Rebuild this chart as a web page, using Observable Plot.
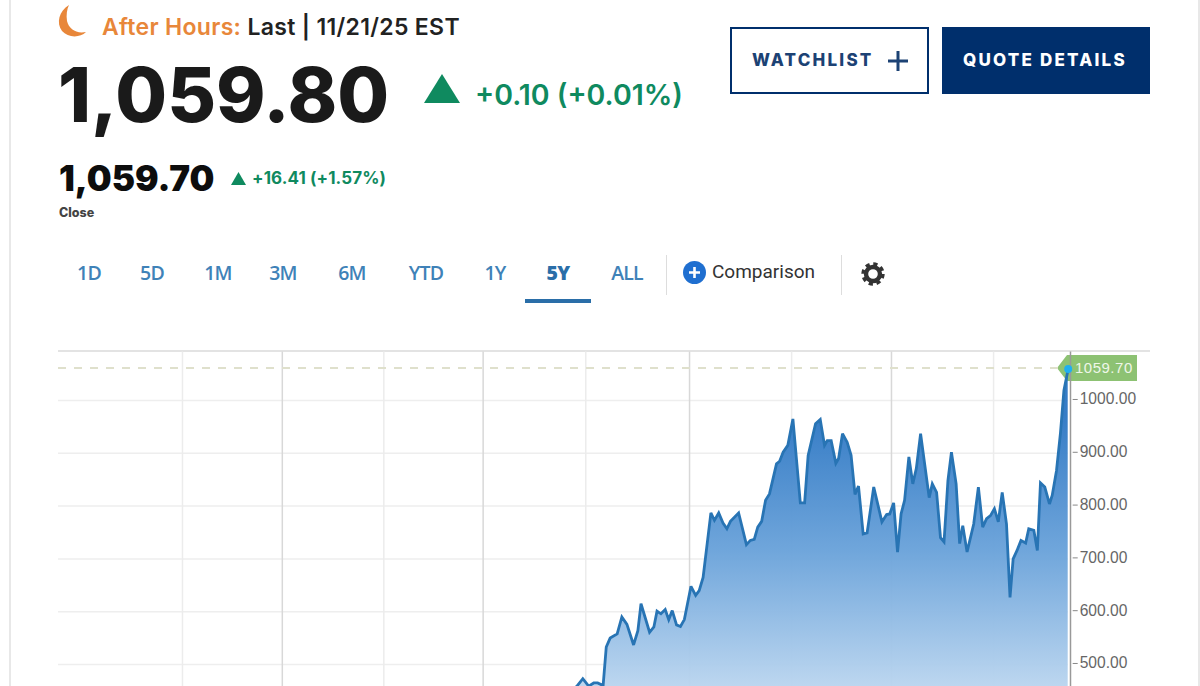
<!DOCTYPE html>
<html><head><meta charset="utf-8">
<script src="https://cdn.jsdelivr.net/npm/d3@7"></script>
<script src="https://cdn.jsdelivr.net/npm/@observablehq/plot@0.6"></script>
<style>
html,body{margin:0;padding:0;background:#fff;width:1200px;height:686px;overflow:hidden}
#page{position:relative;width:1200px;height:686px;overflow:hidden;font-family:Lato,"Noto Sans",sans-serif}
#page>*{position:absolute;white-space:nowrap}
.tab{top:261px;font-size:19.5px;line-height:24px;font-weight:600;color:#3f82b8;transform:translateX(-50%);font-family:"Open Sans",Lato,sans-serif;letter-spacing:-.8px}
.g{color:#0f8a5f;font-weight:700;font-family:Inter}
.sep{width:1px;background:#ddd}
.btn{font-family:Inter;font-weight:800;font-size:17px;line-height:24px;letter-spacing:2.2px}
</style></head><body>
<div id="page">
<div style="left:9px;top:0;width:2px;height:686px;background:#e8e8e8"></div>
<div style="left:1198px;top:0;width:2px;height:686px;background:#e8e8e8"></div>
<svg style="left:56px;top:3px" width="32" height="36" viewBox="0 0 32 36"><path d="M13 2 C3 8 0 20 6 28 C12 35 24 35 30 29 C20 31 13 26 11 18 C10 12 11 6 13 2Z" fill="#e8873a"/></svg>
<div style="left:102px;top:13px;font-family:Inter;font-size:23px;line-height:29px;font-weight:600;color:#222;letter-spacing:.32px"><span style="color:#e8873a">After Hours:</span> Last | 11/21/25 EST</div>
<div style="left:58px;top:49px;font-family:Inter;font-size:75px;line-height:92px;font-weight:800;color:#1a1a1a">1,059.80</div>
<svg style="left:424px;top:74px" width="36" height="29"><polygon points="18,0 36,29 0,29" fill="#0f8a5f"/></svg>
<div class="g" style="left:475px;top:77px;font-size:28.5px;line-height:36px;font-weight:600">+0.10 (+0.01%)</div>
<div style="left:59px;top:157px;font-family:Inter;font-size:35px;line-height:42px;font-weight:900;color:#0d0d0d">1,059.70</div>
<svg style="left:231px;top:172px" width="15" height="13"><polygon points="7.5,0 15,13 0,13" fill="#0f8a5f"/></svg>
<div class="g" style="left:252px;top:168px;font-size:17px;line-height:20px;letter-spacing:.1px">+16.41 (+1.57%)</div>
<div style="left:59px;top:205px;font-family:Inter;font-size:12.5px;line-height:15px;font-weight:800;color:#444">Close</div>

<div style="left:730px;top:27px;width:195px;height:63px;border:2px solid #002f6c"></div>
<div class="btn" style="left:752px;top:48px;color:#1c4274">WATCHLIST</div>
<svg style="left:887px;top:50px" width="22" height="22"><path d="M11 1V21M1 11H21" stroke="#1c4274" stroke-width="3"/></svg>
<div style="left:942px;top:27px;width:208px;height:67px;background:#002f6c"></div>
<div class="btn" style="left:963px;top:48px;color:#fff">QUOTE DETAILS</div>

<div class="tab" style="left:89px">1D</div><div class="tab" style="left:152px">5D</div><div class="tab" style="left:218px">1M</div>
<div class="tab" style="left:283px">3M</div><div class="tab" style="left:352px">6M</div><div class="tab" style="left:426px">YTD</div>
<div class="tab" style="left:495px">1Y</div><div class="tab" style="left:558px;font-weight:800;color:#2a6ea8">5Y</div><div class="tab" style="left:627px">ALL</div>
<div style="left:525px;top:299px;width:66px;height:4px;background:#2a6ea8"></div>
<div class="sep" style="left:666px;top:255px;height:40px"></div>
<svg style="left:683px;top:261px" width="23" height="23"><circle cx="11.5" cy="11.5" r="11.5" fill="#1f6fd0"/><path d="M11.5 6V17M6 11.5H17" stroke="#fff" stroke-width="2.6"/></svg>
<div style="left:712px;top:260px;font-family:Roboto;font-size:19px;line-height:24px;color:#333">Comparison</div>
<div class="sep" style="left:841px;top:255px;height:40px"></div>
<svg style="left:861px;top:262px" width="24" height="24" viewBox="0 0 24 24"><circle cx="12" cy="12" r="7" fill="none" stroke="#333" stroke-width="4.4"/><circle cx="12" cy="12" r="10" fill="none" stroke="#333" stroke-width="3.4" stroke-dasharray="4.2 3.65"/></svg>

<div id="tag" style="left:1057px;top:355px;width:80px;height:26px;background:#8dc273;clip-path:polygon(0 50%,10px 0,100% 0,100% 100%,10px 100%);font:15px/26px 'Liberation Sans',Arial,sans-serif;letter-spacing:.5px;color:#eef6e8;text-indent:18px"></div>
<div style="left:58px;top:350px;width:1092px;height:2px;background:#e3e3e3"></div>
<div id="chart" style="left:0;top:340px"></div>
</div>
<script>
// Close date of the last weekly bar
const closeDate = "2025-11-21";
const startDate = "2020-12-07";
// Weeks before the close
const weeksAgo = [258,240,222,205,188,170,155,140,130,
125.8,124.3,122.8,121.5,120.5,119.1,118.3,117.3,115.5,114.3,113.0,111.3,110.2,109.4,107.2,106.1,105.3,104.3,103.2,102.3,101.4,100.3,99.3,98.3,96.6,95.4,94.5,93.5,91.5,90.6,89.5,88.4,87.4,86.5,84.4,82.4,81.4,80.4,79.5,78.5,77.5,76.5,74.7,73.9,73.0,71.8,70.5,68.6,67.5,66.6,64.7,63.5,62.4,61.7,60.7,59.5,58.8,57.8,56.6,55.6,
54.6,53.7,52.5,51.5,49.8,47.7,46.5,45.7,44.7,43.7,42.8,41.9,40.8,39.8,38.9,37.8,35.6,34.8,33.7,32.7,31.8,30.8,29.9,28.7,27.8,27.0,25.9,24.2,23.0,21.9,20.9,19.9,18.9,17.9,16.9,15.8,14.9,14.1,13.1,12.1,10.9,10.1,8.8,7.9,7.1,6.0,4.8,4.1,3.0,2.0,1.1,0];
// Weekly close
const closes = [146,190,255,240,280,340,365,350,430,
459,473,459,465,465,460,533,550,558,590,576,537,564,615,561,571,601,596,604,585,602,575,572,585,648,631,640,665,787,773,787,768,757,771,787,727,735,737,760,771,811,823,880,885,902,915,965,806,806,896,956,964,915,924,924,881,890,937,921,896,
822,838,747,749,836,770,784,785,806,713,785,811,893,842,871,937,816,842,826,740,732,848,902,842,729,763,713,766,836,760,776,782,795,770,826,766,627,700,716,735,730,757,754,716,844,836,804,820,867,937,1019,1059.7];
const afterHoursLast = closes[closes.length-1];
const yTicks = [1000,900,800,700,600,500];
const majorGrid = ["2022-01-14","2023-01-09","2024-01-14","2025-01-10"];
const minorGrid = ["2021-07-19","2022-07-15","2023-07-12","2024-07-15","2025-07-12"];

const end = new Date(closeDate);
const data = weeksAgo.map((w,i)=>({date:new Date(+end - w*7*864e5), close:closes[i]}));
const d0 = new Date(startDate);
document.getElementById("tag").textContent = d3.format(".2f")(afterHoursLast);

const grad = () => {
  const defs = d3.create("svg:defs");
  const g = defs.append("linearGradient").attr("id","areaFill").attr("gradientUnits","userSpaceOnUse")
    .attr("x1",0).attr("x2",0).attr("y1",75).attr("y2",346);
  g.append("stop").attr("offset",0).attr("stop-color","#2f78c4");
  g.append("stop").attr("offset",.5).attr("stop-color","#6ba3da");
  g.append("stop").attr("offset",1).attr("stop-color","#bad5ef");
  return defs.node();
};

const chart = Plot.plot({
  width:1200, height:346,
  marginLeft:58, marginRight:132.3, marginTop:0, marginBottom:0,
  style:{background:"transparent",overflow:"hidden"},
  x:{type:"utc",domain:[d0,end],axis:null},
  y:{domain:[458.3,1113.6],axis:null},
  marks:[
    grad,
    Plot.ruleY(yTicks,{stroke:"#eeeeee",strokeWidth:1.5}),
    Plot.ruleX(minorGrid.map(d=>new Date(d)),{y1:1092,dx:-1,stroke:"#ececec",strokeWidth:1.5}),
    Plot.ruleX(majorGrid.map(d=>new Date(d)),{y1:1092,dx:-1,stroke:"#d8d8d8",strokeWidth:1.5}),
    Plot.ruleY([afterHoursLast],{dy:-1,stroke:"#dfe0cc",strokeWidth:2,strokeDasharray:"8,8"}),
    Plot.areaY(data,{x:"date",y1:0,y2:"close",fill:"url(#areaFill)",fillOpacity:.97}),
    Plot.lineY(data,{x:"date",y:"close",stroke:"#2874b4",strokeWidth:2.8,strokeLinejoin:"miter",strokeMiterlimit:3}),
    Plot.ruleX([end],{dx:2.3,y1:1092,stroke:"#999",strokeWidth:1.5}),
    Plot.axisY(yTicks,{anchor:"right",dx:4,dy:-1,tickSize:5,tickPadding:2.5,tickFormat:d3.format(".2f"),fontSize:15.6,stroke:"#888",color:"#666",fontFamily:"'Liberation Sans',Arial,sans-serif",label:null}),
    Plot.dot([data[data.length-1]],{x:"date",y:"close",r:4,fill:"#1fb0ef",stroke:"none"})
  ]
});
document.getElementById("chart").appendChild(chart);
</script>
</body></html>
